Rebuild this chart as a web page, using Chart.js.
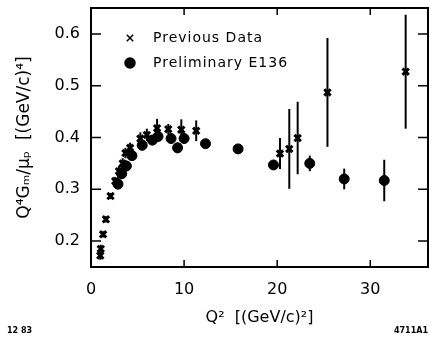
<!DOCTYPE html>
<html>
<head>
<meta charset="utf-8">
<script src="https://cdn.jsdelivr.net/npm/chart.js@4"></script>
<style>
  html, body { margin: 0; padding: 0; background: #fff; }
  #wrap { width: 429px; height: 337px; position: relative; }
</style>
</head>
<body>
<div id="wrap"><canvas id="gm"></canvas></div>
<script>
// Previous data (crosses)
const prevQ2  = [1.0, 1.05, 1.3, 1.6, 2.1, 2.6, 3.0, 3.4, 3.7, 4.2, 5.3, 6.0, 7.1, 8.3, 9.7, 11.3, 20.3, 21.3, 22.2, 25.4, 33.8]
const prevVal = [0.172, 0.185, 0.213, 0.242, 0.287, 0.316, 0.335, 0.35, 0.37, 0.38, 0.398, 0.405, 0.418, 0.416, 0.415, 0.413, 0.369, 0.378, 0.399, 0.487, 0.527]
const prevErr = [0.008, 0.008, 0.006, 0.006, 0.006, 0.008, 0.01, 0.01, 0.01, 0.01, 0.012, 0.012, 0.018, 0.01, 0.02, 0.02, 0.03, 0.077, 0.07, 0.105, 0.11]

// Preliminary E136 (dots)
const e136Q2  = [2.9, 3.3, 3.8, 4.4, 5.5, 6.6, 7.2, 8.6, 9.3, 10.0, 12.3, 15.8, 19.6, 23.5, 27.2, 31.5]
const e136Val = [0.31, 0.33, 0.345, 0.365, 0.385, 0.395, 0.402, 0.398, 0.38, 0.398, 0.388, 0.378, 0.347, 0.35, 0.32, 0.317]
const e136Err = [0.01, 0.01, 0.01, 0.01, 0.01, 0.01, 0.01, 0.01, 0.01, 0.01, 0.008, 0.008, 0.008, 0.015, 0.02, 0.04]

const xTicks = [0, 10, 20, 30]
const yTicks = [0.2, 0.3, 0.4, 0.5, 0.6]

const legendNames = ['Previous Data', 'Preliminary E136']

const FONT = 'DejaVu Sans'

function points(xs, ys, errs) {
    return xs.map((q, i) => ({ x: q, y: ys[i], err: errs[i] }))
}

// vertical error bars, inward ticks, closed frame and the legend box
const decorations = {
    id: 'decorations',
    beforeDatasetsDraw(chart) {
        const { ctx, scales: { x, y } } = chart
        ctx.save()
        ctx.strokeStyle = '#000'
        ctx.lineWidth = 2
        chart.data.datasets.forEach(ds => {
            ds.data.forEach(p => {
                const px = x.getPixelForValue(p.x)
                ctx.beginPath()
                ctx.moveTo(px, y.getPixelForValue(p.y - p.err))
                ctx.lineTo(px, y.getPixelForValue(p.y + p.err))
                ctx.stroke()
            })
        })
        ctx.restore()
    },
    afterDraw(chart) {
        const { ctx, chartArea: a, scales: { x, y } } = chart
        ctx.save()
        ctx.strokeStyle = '#000'
        ctx.lineWidth = 2
        ctx.strokeRect(a.left, a.top, a.right - a.left, a.bottom - a.top)

        ctx.lineWidth = 1.5
        yTicks.forEach(v => {
            const py = y.getPixelForValue(v)
            ctx.beginPath()
            ctx.moveTo(a.left, py); ctx.lineTo(a.left + 10, py)
            ctx.moveTo(a.right, py); ctx.lineTo(a.right - 10, py)
            ctx.stroke()
        })
        xTicks.slice(1).forEach(v => {
            const px = x.getPixelForValue(v)
            ctx.beginPath()
            ctx.moveTo(px, a.bottom); ctx.lineTo(px, a.bottom - 7)
            ctx.moveTo(px, a.top); ctx.lineTo(px, a.top + 7)
            ctx.stroke()
        })

        // legend
        ctx.fillStyle = '#000'
        ctx.font = '14px ' + FONT
        ctx.letterSpacing = '1px'
        ctx.textBaseline = 'middle'
        chart.data.datasets.forEach((ds, i) => {
            const ly = 38 + i * 25
            Chart.helpers.drawPoint(ctx, {
                pointStyle: ds.pointStyle,
                radius: ds.pointRadius,
                borderWidth: ds.borderWidth,
                rotation: 0
            }, 130, ly)
            if (ds.pointStyle === 'circle') ctx.fill()
            ctx.fillText(legendNames[i], 153, ly)
        })

        // figure ids in the corners
        ctx.letterSpacing = '0px'
        ctx.font = 'bold 8px ' + FONT
        ctx.textAlign = 'left'
        ctx.fillText('12 83', 7, 331)
        ctx.textAlign = 'right'
        ctx.fillText('4711A1', 428, 331)
        ctx.restore()
    }
}

new Chart(document.getElementById('gm'), {
    type: 'scatter',
    data: {
        datasets: [{
            label: legendNames[0],
            data: points(prevQ2, prevVal, prevErr),
            pointStyle: 'crossRot',
            pointRadius: 4.5,
            borderWidth: 3,
            borderColor: '#000',
            backgroundColor: '#000'
        }, {
            label: legendNames[1],
            data: points(e136Q2, e136Val, e136Err),
            pointStyle: 'circle',
            pointRadius: 5,
            borderWidth: 1,
            borderColor: '#000',
            backgroundColor: '#000'
        }]
    },
    options: {
        responsive: true,
        maintainAspectRatio: false,
        animation: false,
        layout: { autoPadding: false, padding: { top: 8, right: 1, left: 0, bottom: 0 } },
        plugins: {
            legend: { display: false },
            tooltip: { enabled: false }
        },
        scales: {
            x: {
                type: 'linear',
                min: 0,
                max: 36.2,
                afterBuildTicks: s => { s.ticks = xTicks.map(v => ({ value: v })) },
                afterFit: s => {
                    s.height = 70
                    s.paddingLeft = 0
                    s.paddingRight = 0
                },
                grid: { display: false, drawTicks: false },
                border: { display: false },
                ticks: { color: '#000', padding: 13, font: { family: FONT, size: 16 } },
                title: {
                    display: true,
                    text: 'Q²  [(GeV/c)²]',
                    color: '#000',
                    font: { family: FONT, size: 16 },
                    padding: { top: 0, bottom: 10 }
                }
            },
            y: {
                min: 0.15,
                max: 0.65,
                afterBuildTicks: s => { s.ticks = yTicks.map(v => ({ value: v })) },
                afterFit: s => {
                    s.width = 91
                    s.paddingTop = 0
                    s.paddingBottom = 0
                },
                grid: { display: false, drawTicks: false },
                border: { display: false },
                ticks: {
                    color: '#000',
                    padding: 11,
                    font: { family: FONT, size: 16 },
                    callback: v => v.toFixed(1)
                },
                title: {
                    display: true,
                    text: 'Q⁴Gₘ/μₚ  [(GeV/c)⁴]',
                    color: '#000',
                    font: { family: FONT, size: 17 },
                    padding: { top: 14, bottom: 0 }
                }
            }
        }
    },
    plugins: [decorations]
})
</script>
</body>
</html>
